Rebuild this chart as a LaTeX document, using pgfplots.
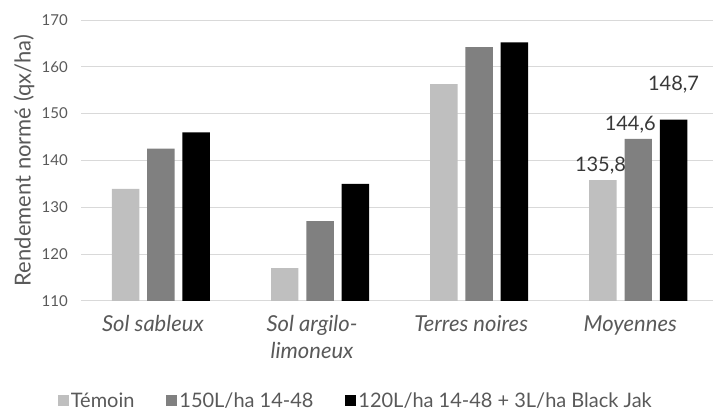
\documentclass[border=0pt]{standalone}
\usepackage{pgfplots}
\pgfplotsset{compat=1.18}
\usepackage{fontspec}
\setmainfont{Lato}
\definecolor{txt}{HTML}{595959}
\definecolor{gridc}{HTML}{D9D9D9}
\definecolor{c1}{HTML}{BFBFBF}
\definecolor{c2}{HTML}{808080}
\definecolor{c3}{HTML}{000000}
\begin{document}
\begin{tikzpicture}
\begin{axis}[
    scale only axis, clip=false,
    width=631.6pt, height=281pt,
    ybar=7.8pt, bar width=27.5pt,
    xmin=-0.5, xmax=3.467,
    ymin=110, ymax=170,
    ytick={110,120,...,170},
    xtick={0,1,2,3},
    xticklabels={Sol sableux, {Sol argilo-\\limoneux}, Terres noires, Moyennes},
    x tick label style={font=\fontsize{22}{27}\selectfont\itshape, align=center, text=txt, anchor=north, yshift=-11pt, xshift=-8pt},
    y tick label style={font=\fontsize{15}{17}\selectfont, text=txt, xshift=-10pt},
    /pgf/number format/assume math mode=true,
    major tick length=0pt,
    axis line style={draw=none},
    ymajorgrids, grid style={gridc, line width=0.9pt},
    ylabel={Rendement normé (qx/ha)},
    ylabel style={font=\fontsize{22}{24}\selectfont, text=txt, at={(axis description cs:-0.0909,0.5)}, anchor=center},
    legend style={at={(0.4348,-0.356)}, anchor=center, draw=none, fill=none,
        font=\fontsize{20}{22}\selectfont, text=txt, legend columns=3,
        /tikz/every even column/.append style={column sep=30pt}},
    legend image code/.code={\fill[#1] (0pt,-5.5pt) rectangle (11pt,5.5pt);},
    nodes near coords,
    point meta=explicit symbolic,
    every node near coord/.append style={font=\fontsize{20}{22}\selectfont, text=black!78, yshift=2pt},
]
\addplot[fill=c1, draw=none] coordinates {(0,133.9) [] (1,117) [] (2,156.3) [] (3,135.8) [{135,8\hspace*{5pt}}]};
\addplot[fill=c2, draw=none] coordinates {(0,142.5) [] (1,127) [] (2,164.2) [] (3,144.6) [{144,6\hspace*{16pt}}]};
\addplot[fill=c3, draw=none] coordinates {(0,146) [] (1,135) [] (2,165.2) [] (3,148.7) [{\raisebox{24pt}{148,7}}]};
\legend{Témoin, 150L/ha 14-48, 120L/ha 14-48 + 3L/ha Black Jak}
\path (rel axis cs:0,0) ++(-81.4pt,-114pt) rectangle ++(713pt,415pt);
\end{axis}
\end{tikzpicture}
\end{document}
